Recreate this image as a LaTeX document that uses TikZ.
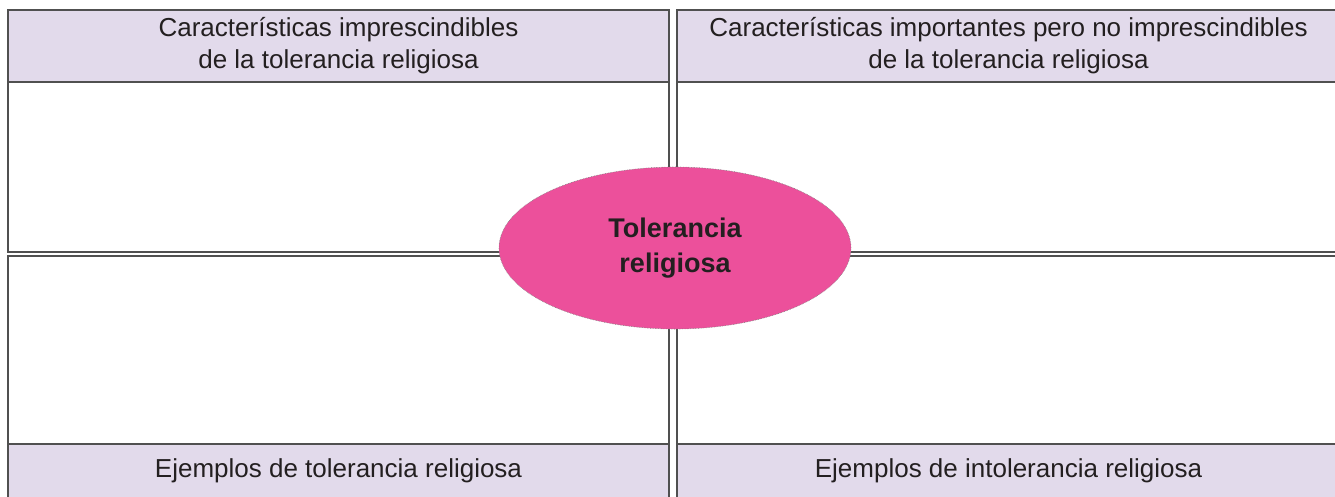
\documentclass[tikz,border=0pt]{standalone}
\usepackage{fontspec}
\setmainfont{Liberation Sans}
\usetikzlibrary{positioning,shapes.geometric}
\definecolor{lila}{RGB}{226,218,235}
\definecolor{rosa}{RGB}{236,80,155}
\definecolor{edge}{RGB}{80,80,80}
\definecolor{ink}{RGB}{35,31,32}

\begin{document}
\begin{tikzpicture}[x=1pt, y=-1pt,
    panel/.style={draw=edge, line width=1.3pt, inner sep=0pt, outer sep=0pt, anchor=north west},
    head/.style={fill=lila, text=ink, align=center, inner sep=0pt, outer sep=0pt, anchor=north west,
        font=\fontsize{26}{32}\selectfont}]
    \useasboundingbox (0,0) rectangle (1335,496);
    \clip (0,0) rectangle (1335,496);

    % headers
    \node[head, minimum width=661pt, minimum height=72pt] (h1) at (8,10)
        {Características imprescindibles\\de la tolerancia religiosa};
    \node[head, minimum width=663pt, minimum height=72pt, right=8pt of h1.north east, anchor=north west] (h2)
        {Características importantes pero no imprescindibles\\de la tolerancia religiosa};
    \node[head, minimum width=661pt, minimum height=54pt] (h3) at (8,444)
        {Ejemplos de tolerancia religiosa};
    \node[head, minimum width=663pt, minimum height=54pt, right=8pt of h3.north east, anchor=north west] (h4)
        {Ejemplos de intolerancia religiosa};

    % frames
    \node[panel, minimum width=661pt, minimum height=242pt] (b1) at (8,10) {};
    \node[panel, minimum width=663pt, minimum height=242pt, right=8pt of b1.north east, anchor=north west] (b2) {};
    \node[panel, minimum width=661pt, minimum height=250pt, below=4pt of b1.south west, anchor=north west] (b3) {};
    \node[panel, minimum width=663pt, minimum height=250pt, right=8pt of b3.north east, anchor=north west] (b4) {};

    \draw[edge, line width=1.3pt] (h1.south west) -- (h1.south east);
    \draw[edge, line width=1.3pt] (h2.south west) -- (h2.south east);
    \draw[edge, line width=1.3pt] (h3.north west) -- (h3.north east);
    \draw[edge, line width=1.3pt] (h4.north west) -- (h4.north east);

    % centre
    \node[ellipse, fill=rosa, draw=gray, densely dotted, line width=0.6pt, inner sep=0pt,
        minimum width=352pt, minimum height=162pt, align=center, text=ink,
        font=\bfseries\fontsize{27}{35}\selectfont] (tol) at (675,248) {Tolerancia\\religiosa};
\end{tikzpicture}
\end{document}
